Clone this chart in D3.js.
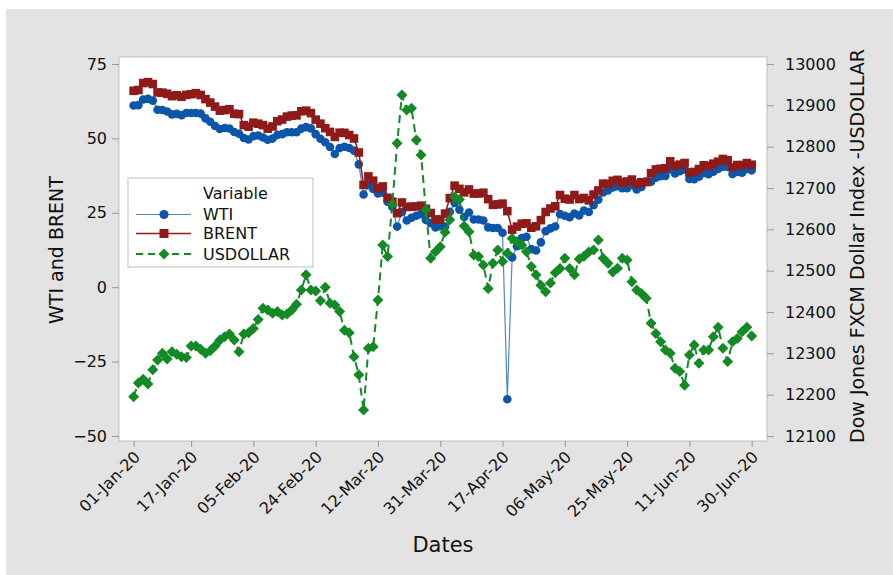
<!DOCTYPE html>
<html>
<head>
<meta charset="utf-8">
<script src="https://cdn.jsdelivr.net/npm/d3@7"></script>
<style>
  body { margin: 0; background: #fff; }
  text { font-family: "DejaVu Sans", sans-serif; fill: #111; }
</style>
</head>
<body>
<div id="chart"></div>
<script>
// ---------- Data ----------
const tickLabels = ["01-Jan-20", "17-Jan-20", "05-Feb-20", "24-Feb-20", "12-Mar-20", "31-Mar-20",
  "17-Apr-20", "06-May-20", "25-May-20", "11-Jun-20", "30-Jun-20"];

// one value per weekday, 01-Jan-20 .. 30-Jun-20
const wti = [
  61.06, 61.18, 63.05, 63.27, 62.70, 59.61, 59.56, 59.04, 58.08, 58.23,
  57.81, 58.52, 58.54, 58.54, 58.34, 56.74, 55.59, 54.19, 53.14, 53.48,
  53.33, 52.14, 51.56, 50.11, 49.61, 50.75, 50.95, 50.32, 49.57, 49.94,
  51.17, 51.42, 52.05, 52.05, 52.05, 53.29, 53.78, 53.38, 51.43, 49.90,
  48.73, 47.09, 44.76, 46.75, 47.18, 46.78, 45.90, 41.28, 31.13, 34.36,
  32.98, 31.50, 31.73, 28.70, 26.95, 20.37, 25.22, 22.43, 23.36, 24.01,
  24.49, 22.60, 21.51, 20.09, 20.48, 20.31, 25.32, 28.34, 26.08, 23.63,
  25.09, 22.76, 22.76, 22.41, 20.11, 19.87, 19.87, 18.27, -37.63, 10.01,
  13.78, 16.50, 16.94, 12.78, 12.34, 15.06, 18.84, 19.78, 20.39, 24.56,
  23.99, 23.55, 24.74, 24.14, 25.78, 25.29, 27.56, 29.43, 31.82, 32.50,
  33.49, 33.92, 33.25, 33.25, 34.35, 32.81, 33.71, 35.49, 35.44, 36.81,
  37.29, 37.41, 39.55, 38.19, 38.94, 39.60, 36.34, 36.26, 37.12, 38.38,
  37.96, 38.84, 39.75, 40.46, 40.37, 38.01, 38.72, 38.49, 39.70, 39.27
];

const brent = [
  66.00, 66.25, 68.60, 68.91, 68.27, 65.44, 65.37, 64.98, 64.20, 64.49,
  64.00, 64.62, 64.85, 65.20, 64.59, 63.21, 62.04, 60.69, 59.32, 59.51,
  59.81, 58.29, 58.16, 54.45, 53.96, 55.28, 54.93, 54.47, 53.27, 54.01,
  55.79, 56.34, 57.32, 57.67, 57.75, 59.12, 59.31, 58.50, 56.30, 54.95,
  53.43, 52.18, 50.52, 51.90, 51.86, 51.13, 49.99, 45.27, 34.36, 37.22,
  35.79, 33.22, 33.85, 30.05, 28.73, 24.88, 28.47, 26.98, 27.03, 27.15,
  27.39, 26.34, 24.93, 22.76, 22.74, 24.74, 29.94, 34.11, 33.05, 31.87,
  32.84, 31.48, 31.48, 31.74, 29.60, 27.69, 27.82, 28.08, 25.57, 19.33,
  20.37, 21.33, 21.44, 19.99, 20.46, 22.54, 25.27, 26.44, 27.20, 30.97,
  29.72, 29.46, 30.97, 29.63, 29.98, 29.19, 31.13, 32.50, 34.81, 34.65,
  35.75, 36.06, 35.13, 35.53, 36.17, 34.74, 35.29, 35.33, 38.32, 39.57,
  39.79, 39.99, 42.30, 40.80, 41.18, 41.73, 38.55, 38.73, 39.72, 40.96,
  40.71, 41.51, 42.19, 43.08, 42.63, 40.31, 41.05, 41.02, 41.71, 41.15
];

const usdollar = [
  12195, 12228, 12237, 12226, 12260, 12284, 12300, 12286, 12304, 12298,
  12292, 12290, 12318, 12318, 12310, 12300, 12306, 12318, 12332, 12340,
  12347, 12332, 12304, 12347, 12350, 12360, 12382, 12409, 12405, 12397,
  12401, 12393, 12395, 12405, 12419, 12453, 12490, 12453, 12451, 12427,
  12460, 12421, 12417, 12401, 12356, 12350, 12292, 12248, 12163, 12312,
  12316, 12429, 12562, 12534, 12661, 12808, 12925, 12889, 12893, 12816,
  12780, 12647, 12530, 12546, 12558, 12593, 12623, 12679, 12672, 12608,
  12594, 12538, 12534, 12514, 12457, 12518, 12550, 12522, 12542, 12578,
  12570, 12562, 12546, 12510, 12490, 12465, 12449, 12470, 12495, 12505,
  12530, 12505, 12490, 12528, 12535, 12545, 12550, 12574, 12530, 12518,
  12497, 12506, 12530, 12526, 12473, 12453, 12445, 12433, 12373, 12348,
  12328, 12308, 12300, 12264, 12256, 12223, 12296, 12320, 12276, 12308,
  12308, 12340, 12363, 12312, 12280, 12328, 12336, 12352, 12363, 12342
];

const leftTicks  = [-50, -25, 0, 25, 50, 75];
const rightTicks = [12100, 12200, 12300, 12400, 12500, 12600, 12700, 12800, 12900, 13000];

// ---------- Layout ----------
const width = 893, height = 575;
const plot = { left: 119, right: 767, top: 57, bottom: 441 };

const COLORS = {
  wti: "#0b56a8", wtiLine: "#4f88c9",
  brent: "#8e1a1a",
  usd: "#138a25",
  frame: "#bfbfbf", tick: "#9a9a9a", panel: "#e3e3e3"
};

// weekdays behind the series (index axis, like the source plot)
const parseDay = d3.utcParse("%d-%b-%y");
const formatDay = d3.utcFormat("%d-%b-%y");
const days = d3.utcDays(parseDay("01-Jan-20"), d3.utcDay.offset(parseDay("30-Jun-20"), 1))
  .filter(d => d.getUTCDay() % 6 !== 0);
const dayIndex = new Map(days.map((d, i) => [formatDay(d), i]));
const tickIdx = tickLabels.map(l => dayIndex.get(l));

// ---------- Scales ----------
const x = d3.scaleLinear().domain([-3.05, 132.2]).range([plot.left, plot.right]);
const yL = d3.scaleLinear().domain([-50, 75]).range([436, 64]);
const yR = d3.scaleLinear().domain([12100, 13000]).range([436, 64]);

// ---------- SVG ----------
const svg = d3.select("#chart").append("svg")
  .attr("width", width)
  .attr("height", height);

svg.append("rect")
  .attr("x", 6).attr("y", 9)
  .attr("width", width - 6).attr("height", height - 9)
  .attr("fill", COLORS.panel);

svg.append("rect")
  .attr("x", plot.left).attr("y", plot.top)
  .attr("width", plot.right - plot.left)
  .attr("height", plot.bottom - plot.top)
  .attr("fill", "#fff")
  .attr("stroke", COLORS.frame);

// ---------- Axes ----------
function styleAxis(g) {
  g.select(".domain").remove();
  g.selectAll(".tick line").attr("stroke", COLORS.tick);
  g.selectAll(".tick text").attr("font-size", 16).attr("fill", "#000");
}

svg.append("g")
  .attr("transform", `translate(${plot.left},0)`)
  .call(d3.axisLeft(yL).tickValues(leftTicks).tickSize(7).tickPadding(5))
  .call(styleAxis);

svg.append("g")
  .attr("transform", `translate(${plot.right},0)`)
  .call(d3.axisRight(yR).tickValues(rightTicks).tickFormat(d3.format("d")).tickSize(7).tickPadding(11))
  .call(styleAxis);

const xAxis = svg.append("g")
  .attr("transform", `translate(0,${plot.bottom})`)
  .call(d3.axisBottom(x).tickValues(tickIdx).tickFormat((d, i) => tickLabels[i]).tickSize(6))
  .call(styleAxis);

xAxis.selectAll(".tick text")
  .attr("x", null).attr("y", null)
  .attr("dy", "0.35em")
  .attr("text-anchor", "end")
  .attr("transform", "translate(3,13) rotate(-45)");

// ---------- Axis titles ----------
svg.append("text")
  .attr("transform", "translate(56,250) rotate(-90)")
  .attr("text-anchor", "middle")
  .attr("dy", "0.35em")
  .attr("font-size", 19)
  .attr("fill", "#000")
  .text("WTI and BRENT");

svg.append("text")
  .attr("transform", "translate(857,246) rotate(-90)")
  .attr("text-anchor", "middle")
  .attr("dy", "0.35em")
  .attr("font-size", 19)
  .attr("fill", "#000")
  .text("Dow Jones FXCM Dollar Index -USDOLLAR");

svg.append("text")
  .attr("x", (plot.left + plot.right) / 2)
  .attr("y", 545)
  .attr("text-anchor", "middle")
  .attr("dy", "0.35em")
  .attr("font-size", 21)
  .attr("fill", "#000")
  .text("Dates");

// ---------- Series ----------
const diamond = "M0,-5.5L5.5,0L0,5.5L-5.5,0Z";

const wtiLine = d3.line().x((d, i) => x(i)).y(d => yL(d));
const usdLine = d3.line().x((d, i) => x(i)).y(d => yR(d));

const gPlot = svg.append("g").attr("class", "plot");

// WTI
gPlot.append("path")
  .datum(wti)
  .attr("d", wtiLine)
  .attr("fill", "none")
  .attr("stroke", COLORS.wtiLine)
  .attr("stroke-width", 1.2);

gPlot.selectAll(".wti")
  .data(wti)
  .enter()
  .append("circle")
  .attr("class", "wti")
  .attr("cx", (d, i) => x(i))
  .attr("cy", d => yL(d))
  .attr("r", 4.3)
  .attr("fill", COLORS.wti);

// BRENT
gPlot.append("path")
  .datum(brent)
  .attr("d", wtiLine)
  .attr("fill", "none")
  .attr("stroke", COLORS.brent)
  .attr("stroke-width", 1.5);

gPlot.selectAll(".brent")
  .data(brent)
  .enter()
  .append("rect")
  .attr("class", "brent")
  .attr("x", (d, i) => x(i) - 4.3)
  .attr("y", d => yL(d) - 4.3)
  .attr("width", 8.6)
  .attr("height", 8.6)
  .attr("fill", COLORS.brent);

// USDOLLAR
gPlot.append("path")
  .datum(usdollar)
  .attr("d", usdLine)
  .attr("fill", "none")
  .attr("stroke", COLORS.usd)
  .attr("stroke-width", 2)
  .attr("stroke-dasharray", "8,5");

gPlot.selectAll(".usd")
  .data(usdollar)
  .enter()
  .append("path")
  .attr("class", "usd")
  .attr("d", diamond)
  .attr("transform", (d, i) => `translate(${x(i)},${yR(d)})`)
  .attr("fill", COLORS.usd);

// ---------- Legend ----------
const legendItems = [
  { label: "WTI", color: COLORS.wti, line: COLORS.wtiLine, width: 1.2, dash: null, shape: "circle" },
  { label: "BRENT", color: COLORS.brent, line: COLORS.brent, width: 1.5, dash: null, shape: "square" },
  { label: "USDOLLAR", color: COLORS.usd, line: COLORS.usd, width: 2, dash: "7,5", shape: "diamond" }
];

const legend = svg.append("g")
  .attr("class", "legend")
  .attr("transform", "translate(128,178)");

legend.append("rect")
  .attr("width", 185).attr("height", 89)
  .attr("fill", "#fff")
  .attr("stroke", COLORS.frame);

legend.append("text")
  .attr("x", 75).attr("y", 20.5)
  .attr("font-size", 16)
  .attr("fill", "#000")
  .text("Variable");

const items = legend.selectAll(".item")
  .data(legendItems)
  .enter()
  .append("g")
  .attr("class", "item")
  .attr("transform", (d, i) => `translate(0,${[36.5, 55.5, 76][i]})`);

items.append("line")
  .attr("x1", 8).attr("x2", 63)
  .attr("stroke", d => d.line)
  .attr("stroke-width", d => d.width)
  .attr("stroke-dasharray", d => d.dash);

items.each(function(d) {
  const g = d3.select(this);
  if (d.shape === "circle") {
    g.append("circle").attr("cx", 36).attr("r", 4.6).attr("fill", d.color);
  } else if (d.shape === "square") {
    g.append("rect").attr("x", 31.5).attr("y", -4.5).attr("width", 9).attr("height", 9).attr("fill", d.color);
  } else {
    g.append("path").attr("d", diamond).attr("transform", "translate(36,0)").attr("fill", d.color);
  }
});

items.append("text")
  .attr("x", 75)
  .attr("dy", "0.36em")
  .attr("font-size", 16)
  .attr("fill", "#000")
  .text(d => d.label);
</script>
</body>
</html>
